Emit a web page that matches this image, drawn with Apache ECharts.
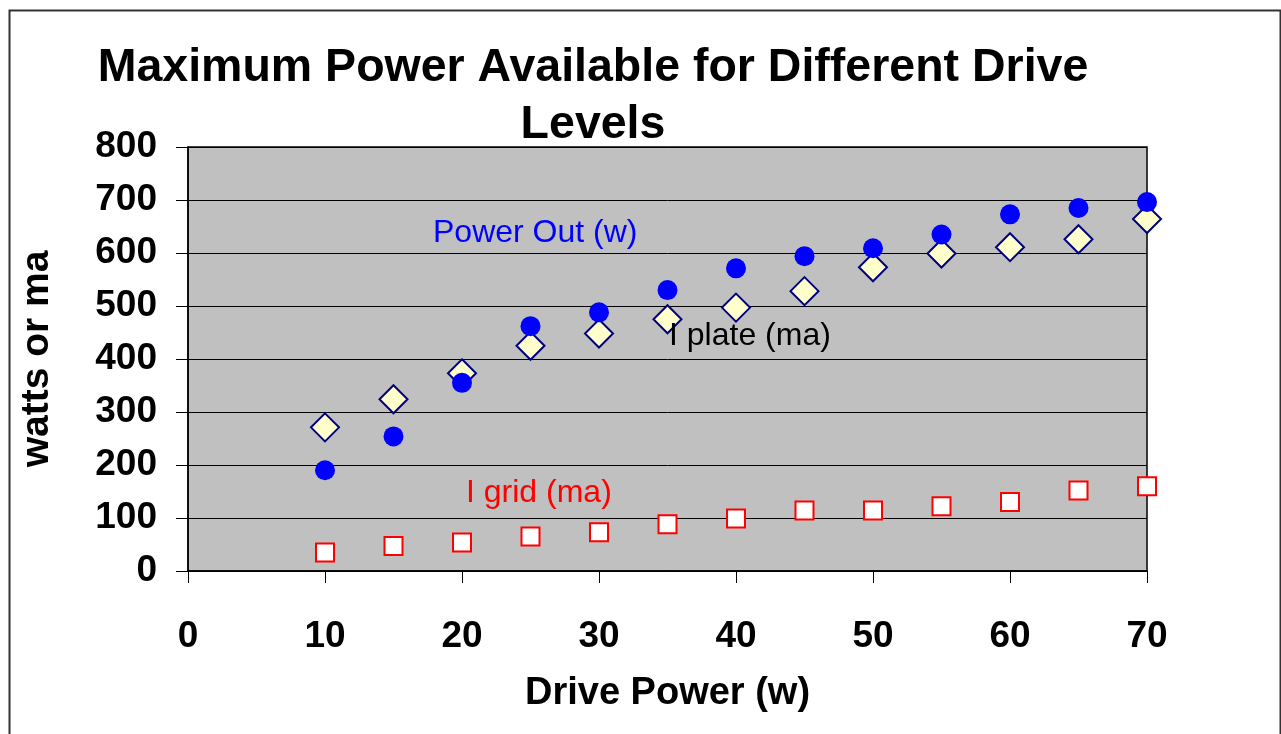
<!DOCTYPE html>
<html>
<head>
<meta charset="utf-8">
<script src="https://cdn.jsdelivr.net/npm/echarts@6/dist/echarts.min.js"></script>
<style>
html,body{margin:0;padding:0;background:#fff;}
#chart{width:1281px;height:734px;}
</style>
</head>
<body>
<div id="chart"></div>
<script>
const drivePower = [10, 15, 20, 25, 30, 35, 40, 45, 50, 55, 60, 65, 70];
const powerOut   = [190, 254, 355, 462, 488, 530, 571, 594, 609, 635, 673, 685, 696];
const iPlate     = [271, 324, 373, 425, 448, 475, 497, 528, 573, 599, 611, 626, 664];
const iGrid      = [35, 47, 54, 65, 73, 88, 99, 114, 114, 122, 130, 152, 160];

const titleText = 'Maximum Power Available for Different Drive\nLevels';
const xName = 'Drive Power (w)';
const yName = 'watts or ma';
const labelPowerOut = 'Power Out (w)';
const labelPlate = 'I plate (ma)';
const labelGrid = 'I grid (ma)';

const pairs = (ys) => drivePower.map((x, i) => [x, ys[i]]);
const FONT = '"Liberation Sans", Arial, sans-serif';

const chart = echarts.init(document.getElementById('chart'), null, {renderer: 'canvas'});
chart.setOption({
  backgroundColor: '#ffffff',
  animation: false,
  title: {
    text: titleText,
    left: 588,
    top: 35,
    textAlign: 'center',
    textStyle: {fontFamily: FONT, fontWeight: 'bold', fontSize: 46.5, lineHeight: 57, color: '#000'}
  },
  grid: {
    left: 188, right: 134, top: 147, bottom: 163,
    show: true, backgroundColor: '#c0c0c0', borderColor: '#000', borderWidth: 1.5
  },
  xAxis: {
    type: 'value', min: 0, max: 70, interval: 10,
    name: xName, nameLocation: 'middle', nameGap: 104,
    nameTextStyle: {fontFamily: FONT, fontWeight: 'bold', fontSize: 38, color: '#000'},
    axisLine: {show: true, lineStyle: {color: '#000', width: 1.5}},
    axisTick: {show: true, length: 12, lineStyle: {color: '#000'}},
    axisLabel: {margin: 47, fontFamily: FONT, fontWeight: 'bold', fontSize: 37, color: '#000'},
    splitLine: {show: false}
  },
  yAxis: {
    type: 'value', min: 0, max: 800, interval: 100,
    name: yName, nameLocation: 'middle', nameGap: 131, nameRotate: 90,
    nameTextStyle: {fontFamily: FONT, fontWeight: 'bold', fontSize: 39, color: '#000'},
    axisLine: {show: true, lineStyle: {color: '#000', width: 1.5}},
    axisTick: {show: true, length: 12, lineStyle: {color: '#000'}},
    axisLabel: {margin: 31, fontFamily: FONT, fontWeight: 'bold', fontSize: 37, color: '#000'},
    splitLine: {show: true, lineStyle: {color: '#000', width: 1}}
  },
  series: [
    {
      name: labelGrid, type: 'scatter', data: pairs(iGrid),
      symbol: 'rect', symbolSize: 18,
      itemStyle: {color: '#ffffff', borderColor: '#ff0000', borderWidth: 2, opacity: 1}
    },
    {
      name: labelPlate, type: 'scatter', data: pairs(iPlate),
      symbol: 'diamond', symbolSize: 28,
      itemStyle: {color: '#ffffcc', borderColor: '#000080', borderWidth: 2, opacity: 1}
    },
    {
      name: labelPowerOut, type: 'scatter', data: pairs(powerOut),
      symbol: 'circle', symbolSize: 20,
      itemStyle: {color: '#0000ff', opacity: 1}
    }
  ],
  graphic: [
    {type: 'rect', left: 7, top: 8, shape: {width: 1271, height: 760}, silent: true, z: -10,
     style: {fill: 'none', stroke: '#333', lineWidth: 2}},
    {type: 'text', left: 433, top: 217, z: 100,
     style: {text: labelPowerOut, fill: '#0000ff', fontFamily: FONT, fontSize: 32}},
    {type: 'text', left: 669, top: 320, z: 100,
     style: {text: labelPlate, fill: '#000000', fontFamily: FONT, fontSize: 32}},
    {type: 'text', left: 466, top: 477, z: 100,
     style: {text: labelGrid, fill: '#ff0000', fontFamily: FONT, fontSize: 32}}
  ]
});
</script>
</body>
</html>
